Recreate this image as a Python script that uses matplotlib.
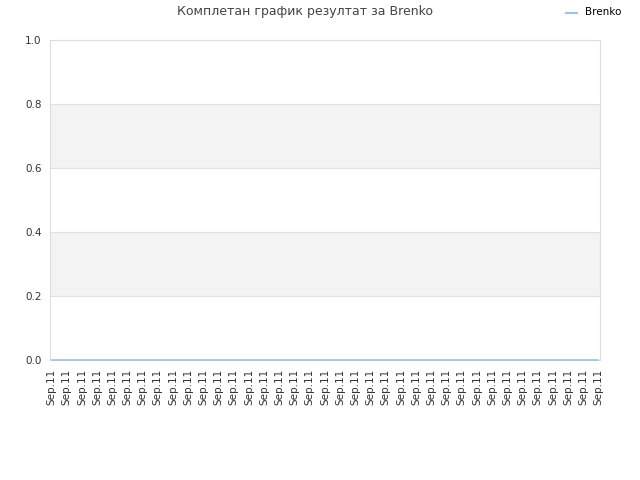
import matplotlib
matplotlib.use("Agg")
import matplotlib.pyplot as plt
import numpy as np

# --- Data ---
labels = ["Sep.11"] * 37
values = [0] * 37
series_name = "Brenko"
title = "Комплетан график резултат за Brenko"

# --- Figure ---
fig = plt.figure(figsize=(6.4, 4.8), dpi=100)
ax = fig.add_axes([50 / 640, 1 - 360 / 480, 550 / 640, 320 / 480])

x = np.arange(len(values))
ax.plot(x, values, color="#99c2ee", linewidth=1.2, zorder=3, clip_on=False)

ax.set_ylim(0, 1.0)
ax.set_xlim(-0.1, len(values) - 0.9)

# alternating bands
yt = np.arange(0, 1.01, 0.2)
for i in range(len(yt) - 1):
    if i % 2 == 1:
        ax.axhspan(yt[i], yt[i + 1], color="#f3f3f3", zorder=0, linewidth=0)
for y in yt:
    ax.axhline(y, color="#e0e0e0", linewidth=0.8, zorder=1)

ax.set_yticks(yt)
ax.set_yticklabels([f"{v:.1f}" for v in yt], fontsize=7.5, color="#333333")
ax.set_xticks(x)
ax.set_xticklabels(labels, rotation=90, fontsize=7.5, color="#333333")
ax.tick_params(length=0, pad=6)

for s in ax.spines.values():
    s.set_color("#dddddd")
    s.set_linewidth(0.8)

fig.text(305 / 640, 1 - 12 / 480, title, ha="center", va="center", fontsize=9, color="#444444")

# legend
fig.lines.append(plt.Line2D([566 / 640, 577 / 640], [1 - 13 / 480] * 2, color="#99c2ee",
                            linewidth=1.5, transform=fig.transFigure))
fig.text(585 / 640, 1 - 12 / 480, series_name, ha="left", va="center", fontsize=7.5, color="#000000")

fig.savefig("out.png", dpi=100, facecolor="white")
